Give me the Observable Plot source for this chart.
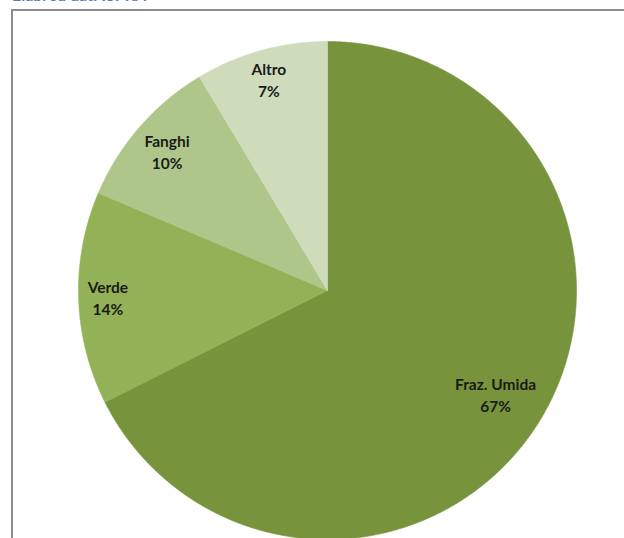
<!DOCTYPE html>
<html><head><meta charset="utf-8">
<script src="https://cdn.jsdelivr.net/npm/d3@7"></script>
<script src="https://cdn.jsdelivr.net/npm/@observablehq/plot@0.6"></script>
<style>
html,body{margin:0;padding:0;width:624px;height:538px;overflow:hidden;background:#fff;}
#wrap{position:relative;width:624px;height:538px;overflow:hidden;}
#title{position:absolute;left:12px;top:-15px;font:bold 16px Lato, sans-serif;color:#4f81bd;line-height:20px;white-space:nowrap;}
#frame{position:absolute;left:11px;top:9px;width:700px;height:700px;border:2px solid #8c8c8c;box-sizing:border-box;}
#chart{position:absolute;left:0;top:0;}
</style></head><body>
<div id="wrap"><div id="title">Elab. su dati ISPRA</div><div id="frame"></div><div id="chart"></div></div>
<script>
const categories = ["Fraz. Umida", "Verde", "Fanghi", "Altro"];
const values = [67.6, 13.8, 10.0, 8.6];
const percentLabels = ["67%", "14%", "10%", "7%"];
const colors = ["#77933c", "#93b156", "#afc68a", "#cfdcbb"];

const W = 624, H = 538, CX = 327, CY = 290, R = 249;
const FONT = "Lato, sans-serif", FS = 15.5;

const arcs = d3.pie().sort(null).value(d => d)(values);
const rows = [];
arcs.forEach((a, i) => {
  const cat = categories[i];
  rows.push({cat, x: 0, y: 0});
  const n = Math.max(2, Math.ceil((a.endAngle - a.startAngle) / 0.005));
  for (let k = 0; k <= n; k++) {
    const t = a.startAngle + (a.endAngle - a.startAngle) * k / n;
    rows.push({cat, x: Math.sin(t), y: Math.cos(t)});
  }
  rows.push({cat, x: 0, y: 0});
});

// inside-end label placement
const ctx = document.createElement("canvas").getContext("2d");
ctx.font = `bold ${FS}px ${FONT}`;
const labels = arcs.map((a, i) => {
  const m = (a.startAngle + a.endAngle) / 2;
  const ux = Math.sin(m), uy = -Math.cos(m);
  const w = Math.max(ctx.measureText(categories[i]).width, ctx.measureText(percentLabels[i]).width);
  const hw = w / 2, hh = 17, Rt = R - 8;
  const b = Math.abs(ux) * hw + Math.abs(uy) * hh;
  const c = hw * hw + hh * hh - Rt * Rt;
  const t = -b + Math.sqrt(b * b - c);
  return {text: categories[i] + "\n" + percentLabels[i], x: t * ux / R, y: -t * uy / R};
});

const chart = Plot.plot({
  width: W, height: H,
  marginTop: 0, marginRight: 0, marginBottom: 0, marginLeft: 0,
  x: {domain: [-1, 1], range: [CX - R, CX + R], axis: null},
  y: {domain: [-1, 1], range: [CY + R, CY - R], axis: null},
  color: {domain: categories, range: colors},
  style: {background: "transparent", overflow: "visible"},
  marks: [
    Plot.line(rows, {x: "x", y: "y", z: "cat", fill: "cat", stroke: "cat", strokeWidth: 0.6, curve: "linear"}),
    Plot.text(labels, {x: "x", y: "y", text: "text", fontSize: FS, fontWeight: "bold", fontFamily: FONT, fill: "#1a1a1a", lineHeight: 22 / FS, textAnchor: "middle"})
  ]
});
document.getElementById("chart").appendChild(chart);
</script>
</body></html>
